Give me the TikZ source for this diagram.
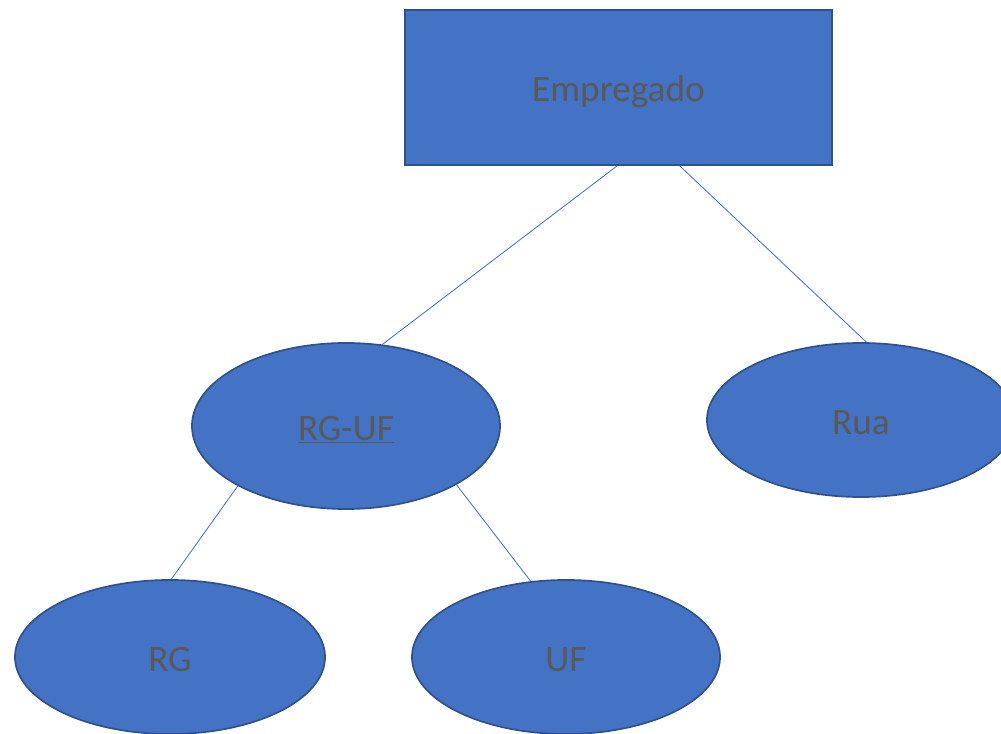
\documentclass[tikz,border=0pt]{standalone}
\usepackage{fontspec}
\setmainfont{Carlito}
\usetikzlibrary{shapes.geometric}
\definecolor{boxblue}{HTML}{4472C4}
\definecolor{edgeblue}{HTML}{2F528F}
\definecolor{labelgray}{HTML}{595959}
\begin{document}
\begin{tikzpicture}[x=0.025cm,y=-0.025cm,
    font=\fontsize{26.5}{30}\selectfont, text=labelgray,
    text height=25pt, text depth=5pt,
    entity/.style={draw=edgeblue, line width=1.2pt, fill=boxblue,
      minimum width=10.675cm, minimum height=3.875cm, inner sep=0pt},
    attr/.style={ellipse, draw=edgeblue, line width=1.2pt, fill=boxblue,
      minimum width=7.7cm, minimum height=3.85cm, inner sep=0pt},
    link/.style={draw=boxblue, line width=0.6pt}]
  \useasboundingbox (0,0) rectangle (1001,734);

  % entity
  \node[entity] (emp) at (618.5,87.5) {Empregado};

  % attributes
  \node[attr, minimum height=4.15cm] (rguf) at (346,426) {\underline{RG-UF}};
  \node[attr] (rua) at (861,420) {Rua};
  \node[attr, minimum width=7.75cm] (rg) at (170,657) {RG};
  \node[attr] (uf) at (566,657) {UF};

  % links
  \draw[link] (emp.-91) -- (rguf.66);
  \draw[link] (emp.-52) -- (rua.86);
  \draw[link] (rguf.209) -- (rg.89);
  \draw[link] (rguf.-28) -- (uf.115);
\end{tikzpicture}
\end{document}
